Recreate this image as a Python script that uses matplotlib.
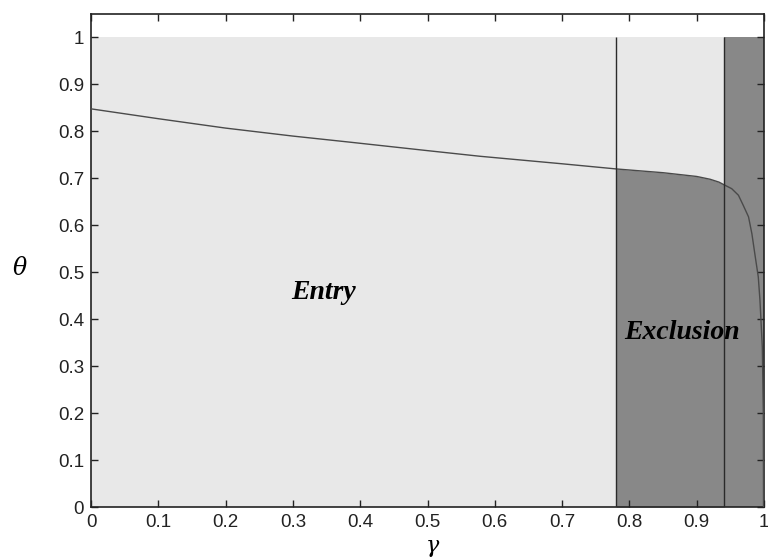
import matplotlib
matplotlib.use('Agg')
import matplotlib.pyplot as plt
import numpy as np

plt.rcParams['mathtext.fontset'] = 'dejavuserif'

# boundary curve theta(gamma)
gamma = [0.0, 0.1, 0.2, 0.3, 0.385, 0.5, 0.578, 0.7, 0.7805, 0.85, 0.9, 0.92,
         0.933, 0.941, 0.952, 0.962, 0.969, 0.977, 0.982, 0.987, 0.9915, 0.994,
         0.9975, 0.999, 0.9993]
theta = [0.848, 0.827, 0.807, 0.790, 0.777, 0.759, 0.747, 0.731, 0.720, 0.712,
         0.704, 0.698, 0.692, 0.686, 0.678, 0.664, 0.643, 0.618, 0.582, 0.533,
         0.490, 0.440, 0.34, 0.20, 0.0]

cut_lo = 0.7805   # left vertical line
cut_hi = 0.941    # right vertical line

xticks = [0, 0.1, 0.2, 0.3, 0.4, 0.5, 0.6, 0.7, 0.8, 0.9, 1]
tick_labels = ['0', '0.1', '0.2', '0.3', '0.4', '0.5', '0.6', '0.7', '0.8', '0.9', '1']

light = '#e8e8e8'
dark = '#888888'

fig = plt.figure(figsize=(7.68, 5.6), dpi=100)
ax = fig.add_axes([0.1185, 0.0946, 0.8763, 0.8804])

g = np.array(gamma)
t = np.array(theta)

# light "entry" area covers the unit square only
ax.fill_between([0, 1], 0, 1, color=light, lw=0, zorder=0)

# dark "exclusion" areas
mid = (g >= cut_lo) & (g <= cut_hi)
ax.fill_between(g[mid], 0, t[mid], color=dark, lw=0, zorder=1)
ax.fill_between([cut_hi, 1], 0, 1, color=dark, lw=0, zorder=1)

ax.plot(g, t, color='#4a4a4a', lw=1.0, zorder=3)
ax.vlines([cut_lo, cut_hi], 0, 1, color='#2a2a2a', lw=1.0, zorder=3)

ax.set_xlim(0, 1)
ax.set_ylim(0, 1.05)
ax.set_xticks(xticks)
ax.set_xticklabels(tick_labels)
ax.set_yticks(xticks)
ax.set_yticklabels(tick_labels)
ax.tick_params(direction='in', length=5, width=1, top=True, right=True,
               labelsize=13.5, colors='#222222', pad=5)
for lab in ax.get_xticklabels() + ax.get_yticklabels():
    lab.set_family('Liberation Sans')
for s in ax.spines.values():
    s.set_linewidth(1.2)
    s.set_color('#222222')

ax.set_xlabel(r'$\gamma$', fontsize=16, va='center')
ax.xaxis.set_label_coords(0.507, -0.085)
ax.set_ylabel(r'$\theta$', fontsize=17, rotation=0, va='center', ha='center')
ax.yaxis.set_label_coords(-0.105, 0.485)

ax.text(0.345, 0.457, 'Entry', family='Liberation Serif', style='italic',
        weight='bold', fontsize=20, ha='center', va='center', zorder=4)
ax.text(0.878, 0.371, 'Exclusion', family='Liberation Serif', style='italic',
        weight='bold', fontsize=20, ha='center', va='center', zorder=4)

fig.savefig('out.png', dpi=100)
